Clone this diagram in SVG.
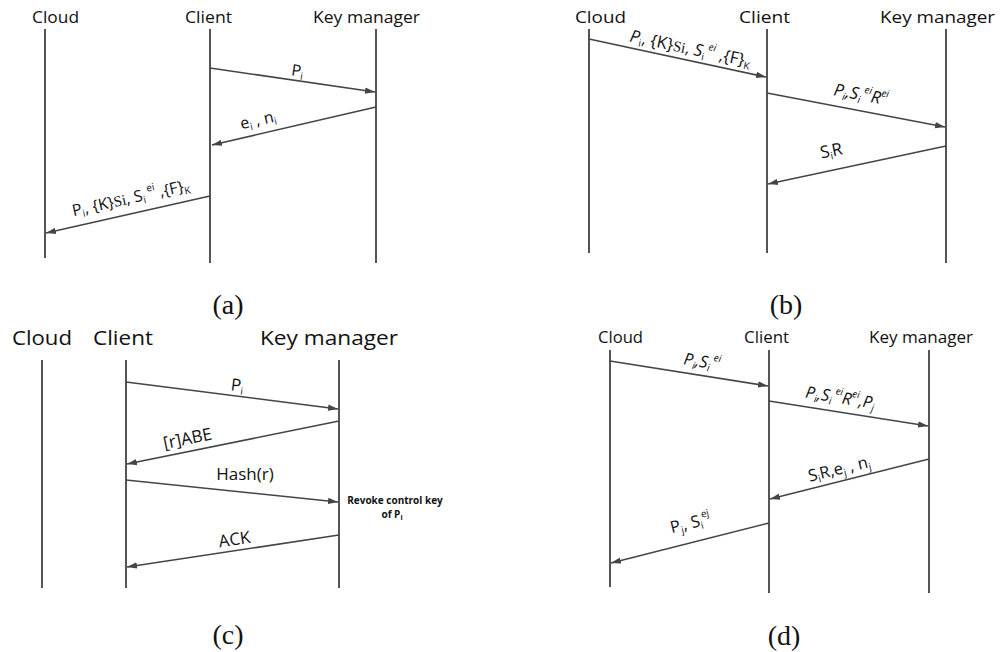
<svg xmlns="http://www.w3.org/2000/svg" width="1000" height="652" viewBox="0 0 1000 652">
<style>
.ll{stroke:#555;stroke-width:2;fill:none}
.ar{stroke:#454545;stroke-width:1.6;fill:none;marker-end:url(#ah)}
.t{font-family:"Open Sans","Liberation Sans",sans-serif;fill:#111}
.h{font-size:17px}
.hc{font-size:20px}
.l{font-size:16px}
.lb{font-size:17px}
.ld{font-size:16.5px}
.lc{font-size:17px}
.s{font-size:10px}
.sr{font-family:"Liberation Serif",serif}
.i{font-style:italic}
.cap{font-family:"Liberation Serif","Times New Roman",serif;font-size:28px;fill:#111;text-anchor:middle}
.rv{font-family:"Open Sans","Liberation Sans",sans-serif;font-weight:bold;font-size:10px;fill:#111;text-anchor:middle}
</style>
<defs>
<marker id="ah" markerUnits="userSpaceOnUse" markerWidth="10" markerHeight="8" refX="10" refY="4" orient="auto">
<path d="M0,0.8 L10,4 L0,7.2 z" fill="#454545"/>
</marker>
</defs>
<rect width="1000" height="652" fill="#fff"/>

<!-- Panel (a) -->
<g id="a-cloud"><line class="ll" x1="45" y1="29" x2="45" y2="258"/><text class="t h" x="32" y="23" textLength="47" lengthAdjust="spacingAndGlyphs">Cloud</text></g>
<g id="a-client"><line class="ll" x1="210" y1="29" x2="210" y2="263"/><text class="t h" x="185" y="23" textLength="47" lengthAdjust="spacingAndGlyphs">Client</text></g>
<g id="a-km"><line class="ll" x1="376" y1="29" x2="376" y2="263"/><text class="t h" x="313" y="23" textLength="107" lengthAdjust="spacingAndGlyphs">Key manager</text></g>
<text class="cap" x="228" y="314">(a)</text>

<!-- Panel (b) -->
<g id="b-cloud"><line class="ll" x1="589" y1="29" x2="589" y2="253"/><text class="t h" x="575" y="23" textLength="51" lengthAdjust="spacingAndGlyphs">Cloud</text></g>
<g id="b-client"><line class="ll" x1="767" y1="29" x2="767" y2="253"/><text class="t h" x="739" y="23" textLength="51" lengthAdjust="spacingAndGlyphs">Client</text></g>
<g id="b-km"><line class="ll" x1="946" y1="29" x2="946" y2="263"/><text class="t h" x="880" y="23" textLength="115" lengthAdjust="spacingAndGlyphs">Key manager</text></g>
<text class="cap" x="786" y="314">(b)</text>

<!-- Panel (c) -->
<g id="c-cloud"><line class="ll" x1="42" y1="360" x2="42" y2="588"/><text class="t hc" x="12" y="345" textLength="60" lengthAdjust="spacingAndGlyphs">Cloud</text></g>
<g id="c-client"><line class="ll" x1="126" y1="360" x2="126" y2="588"/><text class="t hc" x="93" y="345" textLength="60" lengthAdjust="spacingAndGlyphs">Client</text></g>
<g id="c-km"><line class="ll" x1="339" y1="360" x2="339" y2="588"/><text class="t hc" x="260" y="345" textLength="138" lengthAdjust="spacingAndGlyphs">Key manager</text>
<text class="rv" x="395" y="504">Revoke control key</text>
<text class="rv" x="392" y="518">of P<tspan font-size="7px" dy="2">i</tspan></text></g>
<text class="cap" x="228" y="644">(c)</text>

<!-- Panel (d) -->
<g id="d-cloud"><line class="ll" x1="610" y1="350" x2="610" y2="587"/><text class="t h" x="598" y="343" textLength="45" lengthAdjust="spacingAndGlyphs">Cloud</text></g>
<g id="d-client"><line class="ll" x1="769" y1="350" x2="769" y2="593"/><text class="t h" x="744" y="343" textLength="45" lengthAdjust="spacingAndGlyphs">Client</text></g>
<g id="d-km"><line class="ll" x1="929" y1="350" x2="929" y2="593"/><text class="t h" x="869" y="343" textLength="104" lengthAdjust="spacingAndGlyphs">Key manager</text></g>
<text class="cap" x="784" y="645">(d)</text>

<g id="connectors">
<!-- (a) -->
<line class="ar" x1="210" y1="68" x2="375" y2="92"/>
<line class="ar" x1="376" y1="107" x2="212" y2="145"/>
<line class="ar" x1="210" y1="196" x2="46" y2="233"/>
<!-- (b) -->
<line class="ar" x1="589" y1="39" x2="766" y2="77"/>
<line class="ar" x1="767" y1="93" x2="945" y2="127"/>
<line class="ar" x1="946" y1="146" x2="768" y2="184"/>
<!-- (c) -->
<line class="ar" x1="126" y1="382" x2="338" y2="409"/>
<line class="ar" x1="339" y1="421" x2="127" y2="464"/>
<line class="ar" x1="126" y1="480" x2="338" y2="502"/>
<line class="ar" x1="339" y1="535" x2="127" y2="567"/>
<!-- (d) -->
<line class="ar" x1="610" y1="361" x2="768" y2="386"/>
<line class="ar" x1="769" y1="401" x2="928" y2="426"/>
<line class="ar" x1="929" y1="459" x2="770" y2="499"/>
<line class="ar" x1="769" y1="523" x2="611" y2="563"/>
</g>

<g id="labels">
<!-- (a) -->
<g transform="translate(296,81) rotate(8.6)"><text class="t l" y="-5" text-anchor="middle">P<tspan class="s" dy="3">i</tspan></text></g>
<g transform="translate(261,133) rotate(-12.9)"><text class="t l" y="-8" text-anchor="middle">e<tspan class="s" dy="3">i</tspan><tspan dy="-3"> , n</tspan><tspan class="s" dy="3">i</tspan></text></g>
<g transform="translate(134,212) rotate(-12.6)"><text class="t l" y="-9" text-anchor="middle">P<tspan class="s" dy="3">i</tspan><tspan dy="-3">, {K}</tspan><tspan class="sr" font-size="15px">Si</tspan>, S<tspan class="s" dy="3">i</tspan><tspan class="s" dy="-11"> ei</tspan><tspan dy="8"> ,{F}</tspan><tspan class="s" dy="3">K</tspan></text></g>
<!-- (b) -->
<g transform="translate(688,60) rotate(12)"><text class="t lb" y="-6" text-anchor="middle"><tspan class="i">P</tspan><tspan class="s" dy="3">i</tspan><tspan dy="-3">, {K}</tspan><tspan class="sr" font-size="15px">Si</tspan>, <tspan class="i">S</tspan><tspan class="s" dy="3">i</tspan><tspan class="s i" dy="-11"> ei</tspan><tspan dy="8"> ,{F}</tspan><tspan class="s" dy="3">K</tspan></text></g>
<g transform="translate(858,110) rotate(11)"><text class="t lb" y="-10" text-anchor="middle"><tspan class="i">P</tspan><tspan class="s i" dy="3">i</tspan><tspan class="i" dy="-3">,S</tspan><tspan class="s i" dy="3">i</tspan><tspan class="s i" dy="-11"> ei</tspan><tspan class="i" dy="8">R</tspan><tspan class="s i" dy="-8">ei</tspan></text></g>
<g transform="translate(835,169) rotate(-11.7)"><text class="t lb" y="-13" text-anchor="middle">S<tspan class="s" dy="3">i</tspan><tspan dy="-3">R</tspan></text></g>
<!-- (c) -->
<g transform="translate(236,396) rotate(7)"><text class="t lc" y="-5" text-anchor="middle">P<tspan class="s" dy="3">i</tspan></text></g>
<g transform="translate(190,451) rotate(-11.4)"><text class="t lc" y="-7" text-anchor="middle">[r]ABE</text></g>
<text class="t lc" x="245" y="480" text-anchor="middle">Hash(r)</text>
<g transform="translate(236,550) rotate(-8.5)"><text class="t lc" y="-5" text-anchor="middle">ACK</text></g>
<!-- (d) -->
<g transform="translate(700,375) rotate(8.9)"><text class="t ld" y="-8" text-anchor="middle"><tspan class="i">P</tspan><tspan class="s i" dy="3">i</tspan><tspan class="i" dy="-3">,S</tspan><tspan class="s i" dy="3">i</tspan><tspan class="s i" dy="-11"> ei</tspan></text></g>
<g transform="translate(838,411) rotate(9.2)"><text class="t ld" y="-8" text-anchor="middle"><tspan class="i">P</tspan><tspan class="s i" dy="3">i</tspan><tspan class="i" dy="-3">,S</tspan><tspan class="s i" dy="3">i</tspan><tspan class="s i" dy="-11"> ei</tspan><tspan class="i" dy="8">R</tspan><tspan class="s i" dy="-8">ei</tspan><tspan class="i" dy="8">,P</tspan><tspan class="s i" dy="3">j</tspan></text></g>
<g transform="translate(842,480) rotate(-13.7)"><text class="t ld" y="-6" text-anchor="middle">S<tspan class="s" dy="3">i</tspan><tspan dy="-3">R,e</tspan><tspan class="s" dy="3">j</tspan><tspan dy="-3"> , n</tspan><tspan class="s" dy="3">j</tspan></text></g>
<g transform="translate(695,542) rotate(-13.8)"><text class="t ld" y="-14" text-anchor="middle">P<tspan class="s" dy="3">j</tspan><tspan dy="-3">, S</tspan><tspan class="s" dy="3">i</tspan><tspan class="s" dy="-11">ej</tspan></text></g>
</g>
</svg>
